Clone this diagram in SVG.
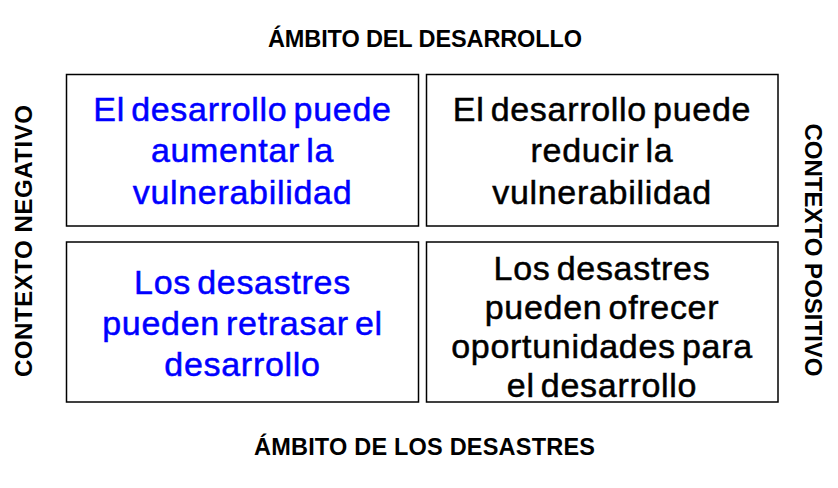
<svg xmlns="http://www.w3.org/2000/svg" width="838" height="488" viewBox="0 0 838 488">
<style>
.box{fill:#ffffff;stroke:#000000;stroke-width:1.5}
.t{font-family:"Liberation Sans",Arial,sans-serif;font-size:34px;text-anchor:middle;letter-spacing:0.7px;word-spacing:-4px;stroke-width:0.5px}
.blue{fill:#0000ff;stroke:#0000ff}
.black{fill:#000000;stroke:#000000}
.lbl{font-family:"Liberation Sans",Arial,sans-serif;font-size:23.5px;font-weight:bold;fill:#000000}
.side{font-family:"Liberation Sans",Arial,sans-serif;font-size:24px;font-weight:bold;fill:#000000}
</style>
<rect width="838" height="488" fill="#ffffff"/>
<g id="labels">
<text class="lbl" x="268" y="47" textLength="314" lengthAdjust="spacing">ÁMBITO DEL DESARROLLO</text>
<text class="lbl" x="254" y="455" textLength="341" lengthAdjust="spacing">ÁMBITO DE LOS DESASTRES</text>
<text class="side" transform="translate(31.5,377) rotate(-90)" x="0" y="0" textLength="272" lengthAdjust="spacing">CONTEXTO NEGATIVO</text>
<text class="side" transform="translate(805,123.5) rotate(90)" x="0" y="0" textLength="253" lengthAdjust="spacing">CONTEXTO POSITIVO</text>
</g>
<g id="node-dev-increase">
<rect class="box" x="66.5" y="74.5" width="352" height="151.5"/>
<text class="t blue"><tspan x="242.5" y="120.5">El desarrollo puede</tspan><tspan x="242.5" y="162">aumentar la</tspan><tspan x="242.5" y="203.5">vulnerabilidad</tspan></text>
</g>
<g id="node-dev-reduce">
<rect class="box" x="426.5" y="74.5" width="351.5" height="151.5"/>
<text class="t black"><tspan x="602" y="120.5">El desarrollo puede</tspan><tspan x="602" y="162">reducir la</tspan><tspan x="602" y="203.5">vulnerabilidad</tspan></text>
</g>
<g id="node-dis-delay">
<rect class="box" x="66.5" y="242" width="352" height="160"/>
<text class="t blue"><tspan x="242.5" y="293.5">Los desastres</tspan><tspan x="242.5" y="334.5">pueden retrasar el</tspan><tspan x="242.5" y="375.5">desarrollo</tspan></text>
</g>
<g id="node-dis-opportunity">
<rect class="box" x="426.5" y="242" width="351.5" height="160"/>
<text class="t black"><tspan x="602" y="279.5">Los desastres</tspan><tspan x="602" y="319">pueden ofrecer</tspan><tspan x="602" y="358">oportunidades para</tspan><tspan x="602" y="397">el desarrollo</tspan></text>
</g>
<g id="connectors"></g>
</svg>
